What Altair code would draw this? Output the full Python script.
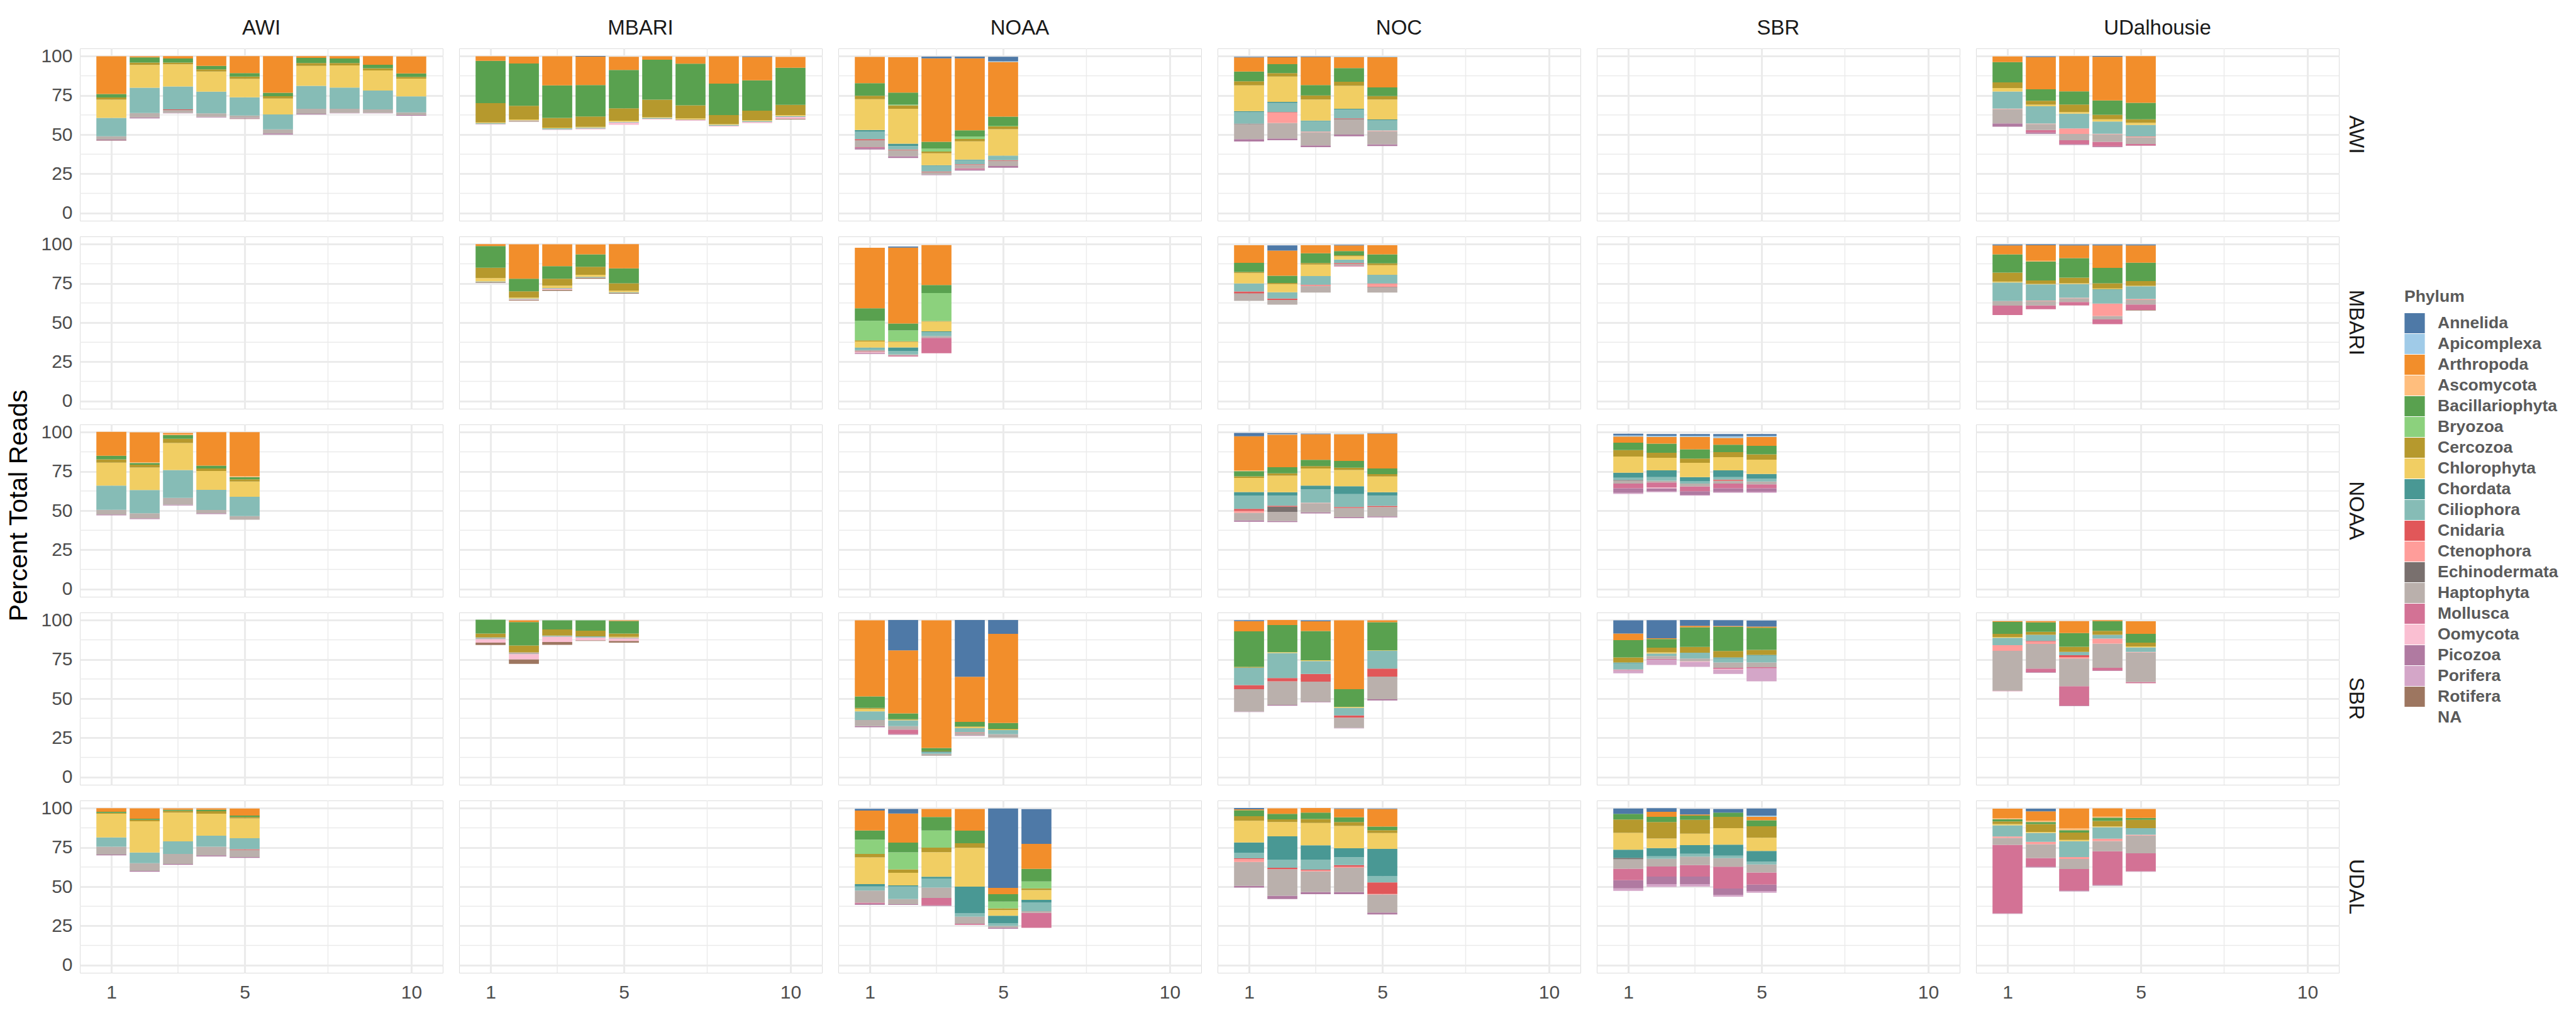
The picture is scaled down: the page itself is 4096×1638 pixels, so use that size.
import altair as alt
import pandas as pd

ROWS = ["AWI", "MBARI", "NOAA", "SBR", "UDAL"]
COLS = ["AWI", "MBARI", "NOAA", "NOC", "SBR", "UDalhousie"]

PHYLA = ["Annelida", "Apicomplexa", "Arthropoda", "Ascomycota", "Bacillariophyta",
         "Bryozoa", "Cercozoa", "Chlorophyta", "Chordata", "Ciliophora", "Cnidaria",
         "Ctenophora", "Echinodermata", "Haptophyta", "Mollusca", "Oomycota",
         "Picozoa", "Porifera", "Rotifera", "NA"]
COLORS = ["#4E79A7", "#A0CBE8", "#F28E2B", "#FFBE7D", "#59A14F", "#8CD17D",
          "#B6992D", "#F1CE63", "#499894", "#86BCB6", "#E15759", "#FF9D9A",
          "#79706E", "#BAB0AC", "#D37295", "#FABFD2", "#B07AA1", "#D4A6C8",
          "#9D7660", "rgba(0,0,0,0)"]

Y_TITLE = "Percent Total Reads"
Y_TICKS = [0, 25, 50, 75, 100]
X_TICKS = [1, 5, 10]
MINOR_Y = [12.5, 37.5, 62.5, 87.5]
MINOR_X = [3, 7.5]

# ---- panel data: percent of reads per phylum, one value per sample bar ----
AWI_AWI = {
    "NA": [46.1, 60.3, 63.5, 60.9, 59.9, 50.0, 62.8, 63.5, 63.5, 62.0],
    "Arthropoda": [24.1, 0.7, 1.5, 6.2, 10.9, 23.4, 1.1, 1.5, 5.5, 10.9],
    "Bacillariophyta": [2.2, 3.3, 2.6, 2.2, 2.2, 2.2, 3.3, 2.9, 2.2, 2.2],
    "Cercozoa": [1.4, 1.5, 1.1, 1.5, 1.5, 1.5, 1.8, 1.5, 1.5, 1.1],
    "Chlorophyta": [11.7, 14.6, 14.2, 12.8, 11.7, 10.2, 12.8, 14.2, 12.8, 11.3],
    "Ciliophora": [11.7, 16.1, 14.6, 13.9, 11.7, 9.5, 14.6, 13.5, 12.0, 10.2],
    "Cnidaria": [0, 0, 0.4, 0, 0, 0, 0, 0, 0, 0],
    "Haptophyta": [2.1, 2.9, 1.8, 2.2, 1.5, 2.6, 3.3, 2.6, 2.2, 1.8],
    "Picozoa": [0.5, 0.6, 0.4, 0.4, 0.4, 0.7, 0.4, 0.4, 0.4, 0.4],
    "Rotifera": [0.2, 0, 0, 0, 0.3, 0, 0, 0, 0, 0],
}
AWI_MBARI = {
    "NA": [56.3, 58.2, 52.9, 53.3, 56.2, 59.6, 58.8, 55.1, 57.3, 59.6],
    "Annelida": [0, 0, 0, 0.4, 0, 0, 0, 0, 0.4, 0],
    "Arthropoda": [2.9, 4.4, 18.6, 18.2, 8.4, 2.2, 4.4, 17.5, 15.0, 6.9],
    "Bacillariophyta": [27.0, 27.0, 20.8, 20.1, 24.5, 25.5, 26.6, 20.1, 19.3, 23.7],
    "Cercozoa": [12.4, 8.8, 6.2, 6.6, 8.0, 11.3, 8.4, 5.8, 6.2, 6.6],
    "Chlorophyta": [0.4, 0.5, 0.4, 0.4, 0.7, 0.4, 0.7, 0.4, 0.5, 0.6],
    "Ciliophora": [0.6, 0, 0.7, 0.4, 0.4, 0.6, 0, 0.6, 0.6, 0.6],
    "Haptophyta": [0, 0.5, 0, 0.4, 0, 0, 0.4, 0, 0, 0],
    "Oomycota": [0.4, 0, 0.4, 0.4, 1.5, 0.4, 0.4, 0.5, 0.7, 1.2],
    "Rotifera": [0, 0.4, 0, 0, 0, 0, 0, 0, 0, 0.4],
}
AWI_NOAA = {
    "NA": [40.5, 35.0, 24.1, 27.0, 28.8],
    "Annelida": [0, 0, 1.1, 1.1, 2.9],
    "Apicomplexa": [0, 0, 0, 0, 0.4],
    "Arthropoda": [16.8, 22.6, 53.3, 46.0, 35.0],
    "Bacillariophyta": [8.0, 7.7, 4.4, 4.0, 5.8],
    "Bryozoa": [0, 0.4, 1.8, 1.5, 0.4],
    "Cercozoa": [2.2, 2.2, 1.1, 1.5, 1.8],
    "Chlorophyta": [19.7, 22.3, 7.7, 11.7, 16.8],
    "Chordata": [1.1, 1.5, 0.4, 0.4, 0.4],
    "Ciliophora": [4.7, 2.2, 3.6, 2.6, 2.6],
    "Cnidaria": [0.7, 0.4, 0.4, 0.4, 0.4],
    "Haptophyta": [4.4, 4.0, 1.5, 2.2, 3.3],
    "Mollusca": [0.5, 0, 0, 0.7, 0],
    "Picozoa": [1.0, 1.1, 0.4, 0.7, 1.1],
}
AWI_NOC = {
    "NA": [45.6, 46.4, 42.0, 48.9, 42.7],
    "Annelida": [0.4, 0.4, 0.4, 0, 0],
    "Apicomplexa": [0, 0, 0, 0.4, 0.4],
    "Arthropoda": [9.1, 4.4, 17.9, 6.9, 19.3],
    "Bacillariophyta": [6.2, 5.8, 6.6, 8.8, 5.5],
    "Cercozoa": [2.6, 2.2, 2.6, 2.6, 2.2],
    "Chlorophyta": [16.4, 16.1, 13.5, 14.6, 12.8],
    "Chordata": [0.7, 0.7, 0.4, 0.4, 0.4],
    "Ciliophora": [7.3, 5.8, 6.6, 5.8, 6.6],
    "Cnidaria": [0, 0.4, 0, 0.4, 0],
    "Ctenophora": [0, 6.6, 0.4, 0, 0.4],
    "Echinodermata": [0.4, 0, 0, 0.4, 0],
    "Haptophyta": [9.5, 9.9, 8.4, 9.5, 8.4],
    "Picozoa": [1.5, 1.1, 1.1, 1.1, 1.1],
}
AWI_UDALHOUSIE = {
    "NA": [55.0, 50.5, 43.4, 42.0, 42.8],
    "Annelida": [0, 0.5, 0, 0.5, 0],
    "Arthropoda": [3.6, 20.6, 22.5, 27.9, 29.8],
    "Bacillariophyta": [13.0, 7.3, 8.4, 9.2, 10.6],
    "Cercozoa": [3.6, 2.5, 4.8, 2.9, 2.2],
    "Chlorophyta": [2.2, 1.0, 1.1, 1.4, 1.4],
    "Ciliophora": [10.9, 11.1, 9.4, 7.8, 7.3],
    "Ctenophora": [0.3, 0.3, 3.5, 0.3, 0.5],
    "Haptophyta": [9.2, 3.8, 4.0, 4.8, 4.3],
    "Mollusca": [0, 1.6, 2.5, 2.9, 1.0],
    "Picozoa": [2.1, 0.8, 0.5, 0.5, 0.2],
}
MBARI_MBARI = {
    "NA": [75.4, 64.1, 70.3, 78.0, 68.5],
    "Arthropoda": [1.2, 22.0, 14.0, 6.3, 15.5],
    "Bacillariophyta": [13.9, 8.0, 8.0, 8.0, 9.5],
    "Cercozoa": [6.6, 4.0, 4.4, 5.1, 4.7],
    "Chlorophyta": [2.1, 0.6, 1.5, 1.3, 1.0],
    "Ciliophora": [0.4, 0.4, 0.4, 0.5, 0.4],
    "Oomycota": [0, 0.4, 0.7, 0, 0],
    "Rotifera": [0.5, 0.5, 0.7, 0.7, 0.5],
}
MBARI_NOAA = {
    "NA": [29.9, 28.3, 30.4],
    "Annelida": [0, 0.7, 0],
    "Arthropoda": [38.7, 48.5, 25.5],
    "Bacillariophyta": [8.0, 4.4, 5.1],
    "Bryozoa": [12.4, 6.9, 17.9],
    "Cercozoa": [0.7, 0.4, 0.4],
    "Chlorophyta": [4.0, 3.6, 6.2],
    "Chordata": [0.4, 2.2, 0.4],
    "Ciliophora": [1.5, 2.2, 2.6],
    "Cnidaria": [0.4, 0, 0],
    "Haptophyta": [0.4, 0.7, 1.1],
    "Mollusca": [0.4, 0.7, 9.9],
    "Oomycota": [0.5, 0, 0],
    "Picozoa": [0.5, 0, 0],
}
MBARI_NOC = {
    "NA": [63.9, 61.4, 69.2, 85.8, 69.2],
    "Annelida": [0, 3.3, 0, 0.4, 0],
    "Arthropoda": [11.3, 16.1, 5.1, 3.6, 5.8],
    "Bacillariophyta": [5.8, 4.6, 6.3, 2.7, 5.8],
    "Cercozoa": [0.7, 0.7, 1.0, 0.6, 1.2],
    "Chlorophyta": [6.6, 5.2, 7.3, 2.2, 6.1],
    "Ciliophora": [5.1, 4.0, 5.5, 2.2, 5.5],
    "Cnidaria": [1.2, 0.9, 0.4, 0.6, 0.3],
    "Ctenophora": [0, 0, 0.4, 0, 1.9],
    "Echinodermata": [0.3, 0, 0, 0, 0.3],
    "Haptophyta": [4.5, 3.1, 4.2, 1.0, 3.3],
    "Mollusca": [0, 0, 0, 0.6, 0],
}
MBARI_UDALHOUSIE = {
    "NA": [54.8, 58.5, 60.9, 49.0, 57.7],
    "Annelida": [0.6, 0.6, 0.6, 0.6, 0.6],
    "Arthropoda": [5.7, 10.0, 8.2, 14.4, 11.1],
    "Ascomycota": [0, 0.5, 0, 0, 0],
    "Bacillariophyta": [11.7, 12.0, 12.4, 9.8, 11.7],
    "Cercozoa": [5.7, 2.2, 3.6, 3.3, 3.0],
    "Chlorophyta": [0.6, 0.3, 0.5, 0.5, 0.3],
    "Chordata": [0, 0, 0, 0.3, 0],
    "Ciliophora": [11.9, 10.3, 8.7, 8.9, 8.1],
    "Ctenophora": [0, 0.3, 0.3, 7.9, 0.6],
    "Haptophyta": [2.9, 2.9, 2.5, 2.2, 3.0],
    "Mollusca": [6.0, 2.4, 2.2, 3.0, 3.5],
    "Rotifera": [0, 0, 0, 0, 0.3],
}
NOAA_AWI = {
    "NA": [47.0, 44.6, 53.3, 47.8, 44.2],
    "Arthropoda": [15.3, 19.1, 0.9, 21.4, 28.2],
    "Ascomycota": [0, 0.5, 0.5, 0, 0.5],
    "Bacillariophyta": [2.3, 1.1, 2.3, 1.8, 1.4],
    "Cercozoa": [2.1, 1.8, 2.7, 1.6, 1.4],
    "Chlorophyta": [14.6, 14.4, 17.3, 12.1, 9.8],
    "Ciliophora": [15.5, 14.8, 17.8, 12.8, 12.3],
    "Haptophyta": [3.0, 3.2, 4.3, 2.1, 2.3],
    "Picozoa": [0.5, 0.5, 0.5, 0.5, 0],
}
NOAA_NOC = {
    "NA": [42.9, 42.7, 48.2, 45.2, 45.7],
    "Annelida": [2.1, 0.7, 0.4, 0, 0.3],
    "Apicomplexa": [0, 0.3, 0, 0.4, 0],
    "Arthropoda": [21.9, 20.8, 16.4, 17.1, 22.3],
    "Ascomycota": [0.4, 0, 0, 0, 0],
    "Bacillariophyta": [3.3, 3.9, 4.0, 4.3, 3.6],
    "Cercozoa": [1.0, 1.5, 1.5, 1.5, 1.5],
    "Chlorophyta": [9.1, 10.6, 10.9, 10.3, 10.1],
    "Chordata": [2.2, 2.2, 2.5, 5.1, 2.2],
    "Ciliophora": [8.5, 6.4, 8.5, 8.2, 6.5],
    "Cnidaria": [1.3, 0.6, 0, 0.6, 0.7],
    "Ctenophora": [1.2, 0, 0.3, 0, 0],
    "Echinodermata": [0, 3.3, 0, 0, 0],
    "Haptophyta": [4.8, 5.8, 5.8, 5.8, 6.0],
    "Picozoa": [0.9, 0.7, 0.7, 0.7, 0.6],
}
NOAA_SBR = {
    "NA": [60.6, 61.7, 59.5, 61.3, 61.3],
    "Annelida": [1.1, 1.1, 1.1, 1.4, 1.1],
    "Apicomplexa": [0.7, 0.7, 0.7, 1.1, 0.7],
    "Arthropoda": [3.9, 4.3, 8.0, 4.3, 5.7],
    "Bacillariophyta": [4.8, 5.9, 5.9, 4.8, 5.5],
    "Cercozoa": [4.1, 3.2, 2.7, 3.2, 3.4],
    "Chlorophyta": [10.3, 8.0, 9.1, 8.4, 9.1],
    "Chordata": [3.2, 4.3, 2.7, 4.3, 3.0],
    "Ciliophora": [1.4, 2.3, 1.4, 1.6, 1.8],
    "Cnidaria": [0, 0, 0, 0.7, 0],
    "Echinodermata": [0.5, 0, 0, 0, 0],
    "Haptophyta": [1.8, 1.1, 1.8, 1.8, 1.8],
    "Mollusca": [3.0, 3.2, 3.2, 3.0, 2.5],
    "Oomycota": [0, 0.5, 0, 0, 0],
    "Picozoa": [3.0, 2.1, 2.3, 2.5, 2.3],
    "Porifera": [0.7, 0.5, 0.5, 0.5, 0.7],
}
SBR_MBARI = {
    "NA": [84.2, 72.2, 84.3, 86.8, 85.7],
    "Arthropoda": [0, 1.1, 0, 0, 0.4],
    "Bacillariophyta": [8.8, 15.0, 5.8, 6.6, 8.0],
    "Cercozoa": [2.6, 4.4, 4.0, 3.7, 2.2],
    "Chlorophyta": [0, 0, 0, 0, 0.4],
    "Ciliophora": [0.4, 0, 0.4, 0.7, 0],
    "Haptophyta": [0.7, 1.1, 0.4, 0, 0.7],
    "Oomycota": [2.2, 3.3, 3.3, 1.8, 1.5],
    "Rotifera": [1.5, 2.9, 1.8, 0.4, 1.1],
}
SBR_NOAA = {
    "NA": [31.7, 26.9, 13.5, 26.2, 25.1],
    "Annelida": [0, 19.4, 0, 36.2, 8.8],
    "Arthropoda": [48.6, 40.2, 81.5, 28.9, 57.0],
    "Bacillariophyta": [7.3, 3.7, 1.8, 2.9, 3.7],
    "Cercozoa": [0.7, 0.4, 0.4, 0.4, 0.4],
    "Chlorophyta": [1.5, 0.4, 0, 0.7, 0.4],
    "Chordata": [0, 0, 0.4, 0, 0],
    "Ciliophora": [5.5, 3.7, 1.1, 2.6, 2.6],
    "Cnidaria": [0, 0, 0, 0.4, 0],
    "Haptophyta": [4.0, 2.2, 1.3, 1.5, 2.2],
    "Mollusca": [0, 2.9, 0, 0, 0],
    "Picozoa": [0.7, 0.4, 0, 0.4, 0],
}
SBR_NOC = {
    "NA": [41.5, 45.5, 47.7, 31.0, 48.8],
    "Annelida": [0.6, 0, 0.6, 0, 0],
    "Arthropoda": [6.5, 3.2, 6.2, 44.0, 1.2],
    "Bacillariophyta": [22.7, 17.4, 18.7, 11.3, 18.0],
    "Cercozoa": [0.5, 0, 0, 0, 0],
    "Chlorophyta": [0, 0.5, 0.5, 0.6, 0.3],
    "Ciliophora": [11.2, 16.0, 8.2, 4.8, 11.3],
    "Cnidaria": [2.6, 2.1, 5.0, 1.4, 5.1],
    "Haptophyta": [14.2, 15.0, 12.8, 6.6, 14.5],
    "Picozoa": [0.3, 0.5, 0.3, 0.3, 0.8],
}
SBR_SBR = {
    "NA": [66.2, 71.5, 70.3, 65.8, 61.0],
    "Annelida": [8.4, 11.6, 3.7, 3.7, 3.9],
    "Arthropoda": [4.3, 0.5, 0.9, 0.5, 0.7],
    "Bacillariophyta": [11.0, 5.5, 12.6, 15.5, 14.2],
    "Cercozoa": [3.2, 3.0, 3.7, 4.1, 3.2],
    "Chlorophyta": [0, 0.7, 0, 0, 0],
    "Chordata": [0.5, 0, 0, 0.5, 0.5],
    "Ciliophora": [3.9, 1.6, 3.7, 2.7, 4.3],
    "Haptophyta": [0.3, 1.8, 1.8, 3.4, 3.0],
    "Mollusca": [0.4, 0.5, 0, 0.7, 0.7],
    "Oomycota": [0, 0, 0.5, 0.5, 0],
    "Porifera": [1.8, 3.4, 3.0, 2.7, 8.4],
}
SBR_UDALHOUSIE = {
    "NA": [54.7, 66.6, 45.2, 67.7, 59.8],
    "Arthropoda": [0.5, 0.8, 7.6, 0.6, 8.0],
    "Bacillariophyta": [7.6, 6.0, 8.8, 6.2, 5.7],
    "Cercozoa": [2.1, 2.0, 3.3, 2.6, 2.4],
    "Chlorophyta": [0.5, 0, 0, 0, 0.6],
    "Ciliophora": [4.7, 3.9, 2.1, 2.4, 2.9],
    "Cnidaria": [0, 0.5, 1.2, 0, 0],
    "Ctenophora": [3.6, 1.4, 0.9, 3.2, 0.3],
    "Haptophyta": [25.5, 15.7, 17.7, 15.4, 18.9],
    "Mollusca": [0.3, 2.3, 12.4, 1.7, 0.8],
    "Picozoa": [0, 0.3, 0.3, 0.3, 0],
}
UDAL_AWI = {
    "NA": [70.0, 59.5, 64.0, 69.3, 68.4],
    "Arthropoda": [2.3, 6.6, 0.9, 0.9, 4.5],
    "Bacillariophyta": [0.7, 0.7, 0.7, 0.9, 0.9],
    "Cercozoa": [0.5, 0.9, 1.1, 1.6, 0.9],
    "Chlorophyta": [15.2, 20.0, 18.4, 14.1, 12.7],
    "Ciliophora": [5.9, 6.8, 8.0, 7.0, 7.0],
    "Cnidaria": [0, 0, 0, 0, 0.5],
    "Haptophyta": [5.0, 5.0, 6.4, 5.5, 4.5],
    "Picozoa": [0.5, 0.5, 0.5, 0.7, 0.5],
}
UDAL_NOAA = {
    "NA": [38.4, 38.4, 37.7, 25.6, 23.1, 23.7],
    "Annelida": [1.1, 2.9, 0, 0, 50.7, 22.2],
    "Arthropoda": [12.8, 18.6, 5.1, 13.9, 4.0, 16.0],
    "Bacillariophyta": [5.8, 6.2, 8.7, 8.0, 4.7, 8.0],
    "Bryozoa": [9.1, 10.9, 10.9, 0, 4.4, 4.4],
    "Cercozoa": [2.2, 2.2, 2.9, 2.9, 1.1, 1.1],
    "Chlorophyta": [17.1, 8.0, 15.7, 24.8, 3.6, 6.2],
    "Chordata": [1.5, 0.7, 1.1, 17.1, 4.7, 1.8],
    "Ciliophora": [2.6, 8.0, 5.8, 2.1, 1.8, 5.5],
    "Haptophyta": [7.7, 3.3, 6.6, 4.5, 1.1, 1.1],
    "Mollusca": [0.7, 0, 4.7, 0.7, 0, 9.5],
    "Picozoa": [0.7, 0.4, 0.4, 0, 0.7, 0],
}
UDAL_NOC = {
    "NA": [49.4, 42.1, 45.2, 45.2, 32.2],
    "Annelida": [0.8, 0, 0, 0.3, 0.3],
    "Arthropoda": [0.6, 3.5, 2.9, 5.4, 11.3],
    "Bacillariophyta": [3.8, 3.5, 4.1, 3.0, 2.3],
    "Cercozoa": [2.9, 1.8, 2.6, 2.6, 1.8],
    "Chlorophyta": [13.9, 9.1, 14.2, 14.2, 10.1],
    "Chordata": [6.5, 15.0, 9.1, 5.7, 17.5],
    "Ciliophora": [3.6, 5.1, 6.5, 5.1, 3.9],
    "Cnidaria": [0.5, 0.9, 0.5, 1.1, 7.4],
    "Ctenophora": [1.8, 0, 0.6, 0.6, 0.3],
    "Haptophyta": [15.3, 16.9, 13.1, 15.4, 11.6],
    "Picozoa": [1.1, 2.1, 1.4, 1.4, 1.2],
}
UDAL_SBR = {
    "NA": [47.3, 49.8, 50.0, 43.6, 46.1],
    "Annelida": [3.4, 2.3, 3.6, 2.3, 4.5],
    "Apicomplexa": [0, 0, 0, 0, 0.7],
    "Arthropoda": [0, 3.2, 0.7, 0, 2.3],
    "Bacillariophyta": [3.6, 3.4, 2.7, 2.7, 3.9],
    "Cercozoa": [8.6, 10.5, 8.9, 7.3, 7.3],
    "Chlorophyta": [10.7, 6.1, 7.3, 10.5, 8.4],
    "Chordata": [5.2, 5.2, 5.5, 7.0, 6.8],
    "Ciliophora": [0, 1.6, 1.8, 1.6, 1.8],
    "Echinodermata": [0.9, 0, 0, 0, 0],
    "Haptophyta": [6.1, 5.0, 5.5, 5.5, 5.2],
    "Mollusca": [7.3, 6.4, 7.3, 13.9, 7.7],
    "Picozoa": [5.2, 4.8, 4.8, 4.1, 4.1],
    "Porifera": [1.6, 1.8, 1.6, 1.1, 1.1],
}
UDAL_UDALHOUSIE = {
    "NA": [32.6, 62.2, 47.0, 50.6, 59.5],
    "Annelida": [0, 1.7, 0, 0, 0],
    "Arthropoda": [6.2, 6.0, 12.8, 5.3, 5.7],
    "Ascomycota": [0.5, 0.8, 1.1, 0.6, 0],
    "Bacillariophyta": [1.4, 1.4, 1.5, 2.1, 1.2],
    "Cercozoa": [1.8, 5.0, 4.7, 3.6, 5.4],
    "Chlorophyta": [0.8, 0.6, 0.8, 0.5, 0],
    "Ciliophora": [7.1, 5.7, 10.1, 7.3, 4.2],
    "Ctenophora": [0.9, 1.5, 1.2, 1.5, 0.5],
    "Haptophyta": [4.4, 8.8, 6.5, 6.5, 11.3],
    "Mollusca": [43.8, 5.6, 13.7, 21.5, 11.5],
    "Picozoa": [0.3, 0.5, 0.5, 0.5, 0.3],
}

PANELS = [
    ("AWI", "AWI", AWI_AWI), ("AWI", "MBARI", AWI_MBARI), ("AWI", "NOAA", AWI_NOAA),
    ("AWI", "NOC", AWI_NOC), ("AWI", "UDalhousie", AWI_UDALHOUSIE),
    ("MBARI", "MBARI", MBARI_MBARI), ("MBARI", "NOAA", MBARI_NOAA),
    ("MBARI", "NOC", MBARI_NOC), ("MBARI", "UDalhousie", MBARI_UDALHOUSIE),
    ("NOAA", "AWI", NOAA_AWI), ("NOAA", "NOC", NOAA_NOC), ("NOAA", "SBR", NOAA_SBR),
    ("SBR", "MBARI", SBR_MBARI), ("SBR", "NOAA", SBR_NOAA), ("SBR", "NOC", SBR_NOC),
    ("SBR", "SBR", SBR_SBR), ("SBR", "UDalhousie", SBR_UDALHOUSIE),
    ("UDAL", "AWI", UDAL_AWI), ("UDAL", "NOAA", UDAL_NOAA), ("UDAL", "NOC", UDAL_NOC),
    ("UDAL", "SBR", UDAL_SBR), ("UDAL", "UDalhousie", UDAL_UDALHOUSIE),
]

# stacking order: NA at the bottom, Annelida on top (ggplot default)
STACK = ["NA"] + PHYLA[:-1][::-1]

records = []
for r, c, d in PANELS:
    n = len(d["NA"])
    for i in range(n):
        cum = 0.0
        for p in STACK:
            v = d.get(p, [0] * n)[i]
            if v > 0:
                records.append({"kind": "bar", "row": r, "col": c, "x": i + 1,
                                "phylum": p, "pct": v, "y0": cum, "y1": cum + v})
                cum += v
for r in ROWS:
    for c in COLS:
        for v in MINOR_Y:
            records.append({"kind": "gy", "row": r, "col": c, "g": v})
        for v in MINOR_X:
            records.append({"kind": "gx", "row": r, "col": c, "g": v})
df = pd.DataFrame(records)

FONT = "Liberation Sans"
GRID = "#EBEBEB"
PANEL_W, PANEL_H = 577, 274
ROW_GAP, COL_GAP = 21, 22
GRID_H = 5 * PANEL_H + 4 * ROW_GAP

xscale = alt.Scale(domain=[0.055, 10.945], nice=False, zero=False)
yscale = alt.Scale(domain=[-5, 105], nice=False, zero=False)
xaxis = alt.Axis(values=X_TICKS, format="d", title=None, grid=True, gridColor=GRID,
                 gridWidth=3.1, ticks=False, domain=False, labelFontSize=30,
                 labelColor="#4D4D4D", labelFont=FONT, labelPadding=14)
yaxis = alt.Axis(values=Y_TICKS, format="d", title=None, grid=True,
                 gridColor=GRID, gridWidth=3.1, ticks=False, domain=False,
                 labelFontSize=30, labelColor="#4D4D4D", labelFont=FONT,
                 labelPadding=10)

base = alt.Chart()
minor_y = base.transform_filter("datum.kind == 'gy'").mark_rule(
    color=GRID, strokeWidth=1.5).encode(y=alt.Y("g:Q", scale=yscale, axis=yaxis))
minor_x = base.transform_filter("datum.kind == 'gx'").mark_rule(
    color=GRID, strokeWidth=1.5).encode(x=alt.X("g:Q", scale=xscale, axis=xaxis))
bars = base.transform_filter("datum.kind == 'bar'").transform_calculate(
    x0="datum.x - 0.45", x1="datum.x + 0.45"
).mark_rect().encode(
    x=alt.X("x0:Q", scale=xscale, axis=xaxis),
    x2="x1:Q",
    y=alt.Y("y0:Q", scale=yscale, axis=yaxis),
    y2="y1:Q",
    color=alt.Color("phylum:N", scale=alt.Scale(domain=PHYLA, range=COLORS),
                    legend=alt.Legend(title="Phylum", orient="none",
                                      legendX=3812, legendY=382,
                                      symbolType="square", symbolSize=1040,
                                      symbolStrokeWidth=0, rowPadding=0,
                                      labelFontSize=26.5, labelFontWeight="bold",
                                      labelFont=FONT, labelColor="#5A5A5A",
                                      labelLimit=0,
                                      labelOffset=20, titleFontSize=26.5,
                                      titleFontWeight="bold", titleFont=FONT,
                                      titleColor="#5A5A5A", titlePadding=12)),
)

grid = alt.layer(minor_y, minor_x, bars, data=df).properties(
    width=PANEL_W, height=PANEL_H
).facet(
    row=alt.Row("row:N", sort=ROWS, title=None,
                header=alt.Header(labelOrient="right", labelAngle=90,
                                  labelFontSize=33, labelFont=FONT,
                                  labelColor="#1A1A1A", labelPadding=8)),
    column=alt.Column("col:N", sort=COLS, title=None,
                      header=alt.Header(labelFontSize=33, labelFont=FONT,
                                        labelColor="#1A1A1A", labelPadding=13)),
    spacing={"row": ROW_GAP, "column": COL_GAP},
)

ytitle = alt.Chart(pd.DataFrame({"t": [Y_TITLE]})).mark_text(
    angle=270, fontSize=41, font=FONT, color="#000000", align="center",
    baseline="middle"
).encode(
    text="t:N", x=alt.value(20), y=alt.value(727)
).properties(width=41, height=GRID_H,
             view=alt.ViewBackground(stroke="transparent", strokeWidth=0))

chart = alt.hconcat(ytitle, grid, spacing=12).properties(
    padding={"left": 10, "top": 29, "right": 0, "bottom": 0},
    background="white",
).configure_view(stroke="transparent", strokeWidth=0).configure(font=FONT)

chart.save("out.html", embed_options={"renderer": "svg", "actions": False})
